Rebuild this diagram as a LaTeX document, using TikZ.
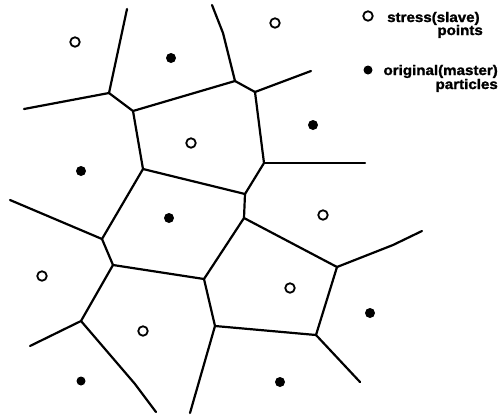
\documentclass[tikz,border=0pt]{standalone}
\usepackage{fontspec}
\newfontfamily\legfont[FakeStretch=1.08,FakeBold=1.5]{Liberation Sans Bold}
\begin{document}
\begin{tikzpicture}[x=1pt,y=-1pt,
  edge/.style={line width=2.2pt,line cap=round,line join=round},
  stresspt/.style={circle,draw,line width=1.8pt,minimum size=9.5pt,inner sep=0pt,fill=white},
  masterpt/.style={circle,fill,minimum size=10pt,inner sep=0pt},
  legtext/.style={font=\legfont\fontsize{14}{16}\selectfont,inner sep=0pt}]
\useasboundingbox (0,0) rectangle (499,416);
\clip (0,0) rectangle (499,416);
% Voronoi vertices
\coordinate (A) at (109,93);
\coordinate (B) at (133,111);
\coordinate (C) at (235,81);
\coordinate (F) at (255,92);
\coordinate (G) at (264,163);
\coordinate (E) at (245,194);
\coordinate (D) at (143,169);
\coordinate (K) at (244,218);
\coordinate (H) at (102,239);
\coordinate (I) at (113,265);
\coordinate (J) at (204,279);
\coordinate (L) at (337,267);
\coordinate (O) at (316,335);
\coordinate (N) at (215,326);
\coordinate (M) at (81,321);
% free ends
\coordinate (a1) at (127,9);
\coordinate (a2) at (24,109);
\coordinate (c1) at (223,33);
\coordinate (c2) at (212,5);
\coordinate (f1) at (311,71);
\coordinate (g1) at (365,163);
\coordinate (h1) at (10,200);
\coordinate (m1) at (30,346);
\coordinate (m2) at (135,384);
\coordinate (m3) at (156,412);
\coordinate (n1) at (190,413);
\coordinate (o1) at (360,382);
\coordinate (l1) at (393,245);
\coordinate (l2) at (422,231);
% cells
\draw[edge] (A) -- (B) -- (C) -- (F) -- (G) -- (E) -- (D) -- (B);
\draw[edge] (E) -- (K) -- (J) -- (I) -- (H) -- (D);
\draw[edge] (K) -- (L) -- (O) -- (N) -- (J);
\draw[edge] (I) -- (M);
\draw[edge] (A) -- (a1);
\draw[edge] (A) -- (a2);
\draw[edge] (C) -- (c1) -- (c2);
\draw[edge] (F) -- (f1);
\draw[edge] (G) -- (g1);
\draw[edge] (H) -- (h1);
\draw[edge] (M) -- (m1);
\draw[edge] (M) -- (m2) -- (m3);
\draw[edge] (N) -- (n1);
\draw[edge] (O) -- (o1);
\draw[edge] (L) -- (l1) -- (l2);
% stress (slave) points
\node[stresspt] (s1) at (75,42) {};
\node[stresspt] (s2) at (191,143) {};
\node[stresspt] (s3) at (275,23) {};
\node[stresspt] (s4) at (323,215) {};
\node[stresspt] (s5) at (290,288) {};
\node[stresspt] (s6) at (143,331) {};
\node[stresspt] (s7) at (42,276) {};
% original (master) particles
\node[masterpt] (p1) at (171,58) {};
\node[masterpt] (p2) at (81,171) {};
\node[masterpt] (p3) at (313,125) {};
\node[masterpt] (p4) at (169,218) {};
\node[masterpt] (p5) at (370,313) {};
\node[masterpt] (p6) at (280,382) {};
\node[masterpt,minimum size=9pt] (p7) at (81,381) {};
% legend
\node[stresspt] (ls) at (368,16) {};
\node[masterpt,minimum size=9pt] (lm) at (368,70) {};
\node[legtext,anchor=base west] (t1) at (387,22) {stress(slave)};
\node[legtext,anchor=base east] (t2) at (483,35) {points};
\node[legtext,anchor=base east] (t3) at (498,75) {original(master)};
\node[legtext,anchor=base east] (t4) at (498,89) {particles};
\end{tikzpicture}
\end{document}
